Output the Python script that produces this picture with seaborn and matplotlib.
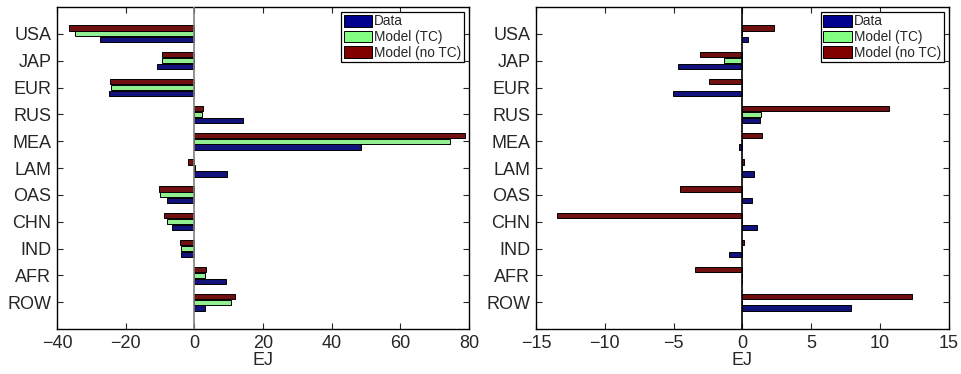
import matplotlib
matplotlib.use("Agg")
import matplotlib.pyplot as plt
import seaborn as sns
import pandas as pd
from matplotlib.patches import Patch

regions = ["USA", "JAP", "EUR", "RUS", "MEA", "LAM", "OAS", "CHN", "IND", "AFR", "ROW"]
series = ["Data", "Model (TC)", "Model (no TC)"]
colors = {"Data": "#00008f", "Model (TC)": "#80ff80", "Model (no TC)": "#800000"}

# Left panel values (EJ)
left_data = [-27.6, -10.9, -24.9, 14.2, 48.4, 9.5, -8.1, -6.5, -3.9, 9.3, 3.0]
left_tc = [-34.9, -9.3, -24.3, 2.2, 74.6, 0.1, -9.9, -7.9, -4.0, 3.2, 10.8]
left_notc = [-36.6, -9.5, -24.6, 2.5, 78.9, -1.9, -10.3, -8.9, -4.2, 3.5, 11.9]

# Right panel values (EJ)
right_data = [0.44, -4.65, -5.06, 1.31, -0.24, 0.87, 0.73, 1.1, -0.97, 0.0, 7.88]
right_tc = [0.0, -1.35, 0.0, 1.36, 0.0, 0.0, 0.0, 0.0, 0.0, -0.02, 0.0]
right_notc = [2.3, -3.05, -2.4, 10.7, 1.45, 0.12, -4.53, -13.5, 0.15, -3.44, 12.33]

left_xticks = [-40, -20, 0, 20, 40, 60, 80]
right_xticks = [-15, -10, -5, 0, 5, 10, 15]


def long_df(d, tc, notc):
    rows = []
    for i, r in enumerate(regions):
        rows.append((r, "Data", d[i]))
        rows.append((r, "Model (TC)", tc[i]))
        rows.append((r, "Model (no TC)", notc[i]))
    return pd.DataFrame(rows, columns=["region", "series", "value"])


sns.set_style("ticks")
plt.rcParams["font.family"] = ["Liberation Sans", "DejaVu Sans"]
plt.rcParams["xtick.direction"] = "in"
plt.rcParams["ytick.direction"] = "in"

fig = plt.figure(figsize=(9.62, 3.74), dpi=100)
ax1 = fig.add_axes([57 / 962, 45 / 374, 412 / 962, 322 / 374])
ax2 = fig.add_axes([536 / 962, 45 / 374, 412.6 / 962, 322 / 374])

hue_order = ["Model (no TC)", "Model (TC)", "Data"]

panels = [
    (ax1, long_df(left_data, left_tc, left_notc), (-40, 80), left_xticks, "#808080"),
    (ax2, long_df(right_data, right_tc, right_notc), (-15, 15), right_xticks, "black"),
]

for ax, df, xl, xt, zc in panels:
    sns.barplot(data=df, y="region", x="value", hue="series", order=regions,
                hue_order=hue_order, palette=colors, orient="h", width=0.66,
                gap=0.1, edgecolor="black", linewidth=0.7, errorbar=None,
                ax=ax, legend=False, zorder=3)
    ax.axvline(0, color=zc, lw=1.2, zorder=4)
    ax.set_xlim(*xl)
    ax.set_xticks(xt)
    ax.set_ylim(11, -1)
    ax.set_ylabel("")
    ax.set_xlabel("EJ", fontsize=13, labelpad=0)
    ax.tick_params(axis="both", which="both", direction="in", top=True, right=True,
                   labelsize=13, length=4, width=0.8, pad=4)
    for s in ax.spines.values():
        s.set_visible(True)
        s.set_linewidth(1.0)
        s.set_color("black")
    handles = [Patch(facecolor=colors[s], edgecolor="black", linewidth=0.7) for s in series]
    leg = ax.legend(handles, series, loc="upper right", fontsize=9.8, frameon=True,
                    fancybox=False, edgecolor="black", framealpha=1,
                    handlelength=2.1, handleheight=0.95, handletextpad=0.15,
                    labelspacing=0.12, borderpad=0.2, borderaxespad=0.35)
    leg.get_frame().set_linewidth(0.9)

fig.savefig("out.png", dpi=100)
